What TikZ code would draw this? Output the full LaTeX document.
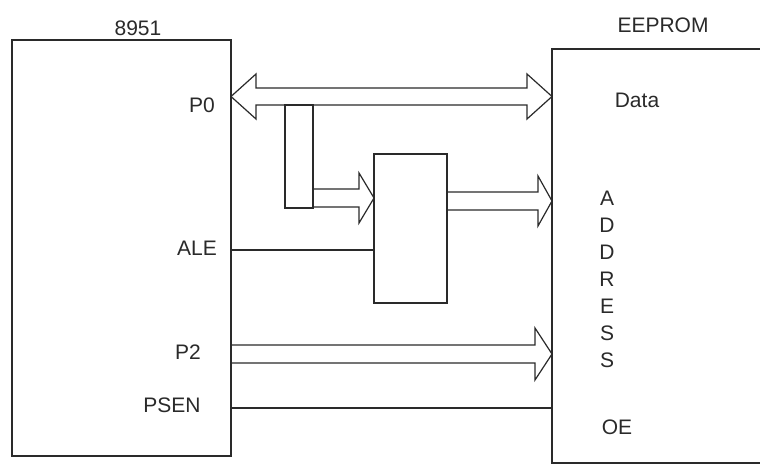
\documentclass[tikz,border=0pt]{standalone}
\usepackage{fontspec}
\setmainfont{Liberation Sans}
\usetikzlibrary{calc}
\definecolor{ink}{HTML}{2A2A2A}
\newcommand\rbus[5]{\draw[wire] let \p1=(#1),\p2=(#2) in (\x1,\y2+#3) -- (\x2-#5,\y2+#3) -- (\x2-#5,\y2+#4) -- (\x2,\y2) -- (\x2-#5,\y2-#4) -- (\x2-#5,\y2-#3) -- (\x1,\y2-#3);}
\begin{document}
\begin{tikzpicture}[x=1pt,y=-1pt,
  box/.style={draw=ink,line width=1.2pt,inner sep=0pt,outer sep=0pt,anchor=north west},
  wire/.style={draw=ink,line width=1.2pt,line join=miter},
  lbl/.style={text=ink,inner sep=0pt,font=\fontsize{21}{27}\selectfont,align=center}]
\clip (0,0) rectangle (760,465);
\fill[white] (0,0) rectangle (760,465);
% blocks
\node[box,minimum width=219pt,minimum height=416pt] (mcu) at (12,40) {};
\node[box,minimum width=230pt,minimum height=414pt] (eep) at (552,49) {};
\node[box,minimum width=28pt,minimum height=103pt] (lat1) at (285,105) {};
\node[box,minimum width=73pt,minimum height=149pt] (lat2) at (374,154) {};
% row coordinates
\path (0,96.5) coordinate (yd) (0,198) coordinate (ya) (0,201) coordinate (yb)
      (0,250) coordinate (yale) (0,354) coordinate (yp2) (0,408) coordinate (yps);
% data bus (double headed)
\draw[wire] let \p1=(mcu.east |- yd),\p2=(eep.west |- yd) in
  (\x1,\y1) -- (\x1+25pt,\y1+22.5pt) -- (\x1+25pt,\y1+8.5pt) -- (\x2-25pt,\y1+8.5pt)
  -- (\x2-25pt,\y1+22.5pt) -- (\x2,\y1) -- (\x2-25pt,\y1-22.5pt) -- (\x2-25pt,\y1-8.5pt)
  -- (\x1+25pt,\y1-8.5pt) -- (\x1+25pt,\y1-22.5pt) -- cycle;
% address buses
\rbus{lat1.east |- ya}{lat2.west |- ya}{9pt}{25pt}{15pt}
\rbus{lat2.east |- yb}{eep.west |- yb}{9pt}{25pt}{14pt}
\rbus{mcu.east |- yp2}{eep.west |- yp2}{9pt}{26pt}{17pt}
% control lines
\draw[wire] (mcu.east |- yale) -- (lat2.west |- yale);
\draw[wire] (mcu.east |- yps) -- (eep.west |- yps);
% labels
\node[lbl] (t8951) at (138,28) {8951};
\node[lbl] (teep) at (663,25) {EEPROM};
\node[lbl] (tp0) at (202,105) {P0};
\node[lbl] (tale) at (197,248) {ALE};
\node[lbl] (tp2) at (188,352) {P2};
\node[lbl] (tpsen) at (172,405) {PSEN};
\node[lbl] (tdata) at (637,100) {Data};
\node[lbl] (taddr) at (607,279) {A\\D\\D\\R\\E\\S\\S};
\node[lbl] (toe) at (617,427) {OE};
\end{tikzpicture}
\end{document}
